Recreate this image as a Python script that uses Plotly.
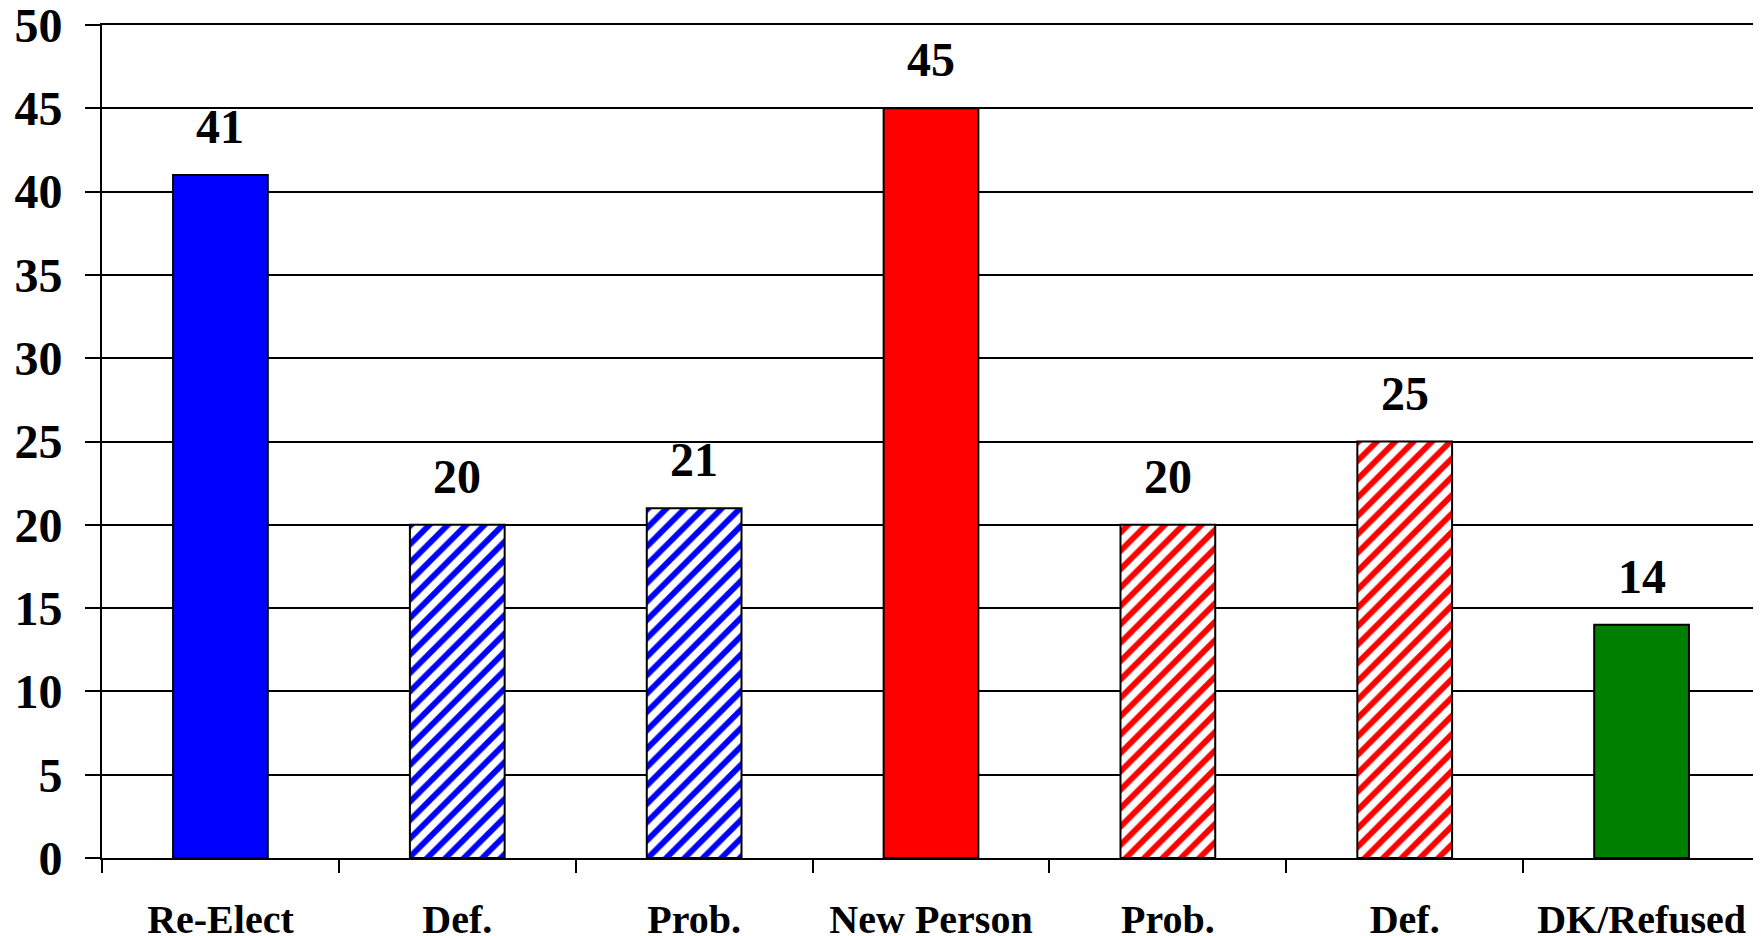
import plotly.graph_objects as go

categories = ["Re-Elect", "Def.", "Prob.", "New Person", "Prob.", "Def.", "DK/Refused"]
values = [41, 20, 21, 45, 20, 25, 14]
colors = ["#0000FF", "#0000FF", "#0000FF", "#FF0000", "#FF0000", "#FF0000", "#008000"]
hatched = [False, True, True, False, True, True, False]
y_ticks = [0, 5, 10, 15, 20, 25, 30, 35, 40, 45, 50]

# unique category keys so duplicate labels stay separate
x_keys = [f"c{i}" for i in range(len(categories))]

FONT = "Liberation Serif, Times New Roman, serif"

fig = go.Figure()
for xk, v, c, h in zip(x_keys, values, colors, hatched):
    if h:
        marker = dict(
            color=c,
            line=dict(color="#000000", width=2),
            pattern=dict(shape="/", fgcolor=c, bgcolor="#FFFFFF",
                         fgopacity=1, size=13, solidity=0.45, fillmode="replace"),
        )
    else:
        marker = dict(color=c, line=dict(color="#000000", width=2))
    fig.add_trace(go.Bar(
        x=[xk], y=[v], width=0.4, marker=marker,
        showlegend=False, hoverinfo="skip",
    ))

for xk, v in zip(x_keys, values):
    fig.add_annotation(
        x=xk, y=v, text=f"<b>{v}</b>", showarrow=False,
        yanchor="bottom", yshift=20,
        font=dict(family=FONT, size=48, color="#000000"),
    )

fig.update_layout(
    width=1753, height=928,
    margin=dict(l=94, r=1, t=17, b=78),
    paper_bgcolor="#FFFFFF",
    plot_bgcolor="#FFFFFF",
    barmode="overlay",
    font=dict(family=FONT, color="#000000"),
    xaxis=dict(
        type="category",
        categoryorder="array",
        categoryarray=x_keys,
        tickmode="array",
        tickvals=x_keys,
        ticktext=[f"<b>{c}</b>" for c in categories],
        tickson="boundaries",
        ticks="outside",
        ticklen=13,
        tickwidth=2,
        tickcolor="#000000",
        tickfont=dict(family=FONT, size=40, color="#000000"),
        ticklabelstandoff=25,
        ticklabeloverflow="allow",
        showline=True,
        mirror=True,
        linecolor="#000000",
        linewidth=2,
        showgrid=False,
        range=[-0.5, 6.5],
        zeroline=False,
        automargin=False,
    ),
    yaxis=dict(
        range=[0, 50],
        tickmode="array",
        tickvals=y_ticks,
        ticktext=[f"<b>{t}</b>" for t in y_ticks],
        ticks="outside",
        ticklen=15,
        tickwidth=2,
        tickcolor="#000000",
        tickfont=dict(family=FONT, size=48, color="#000000"),
        ticklabelstandoff=13,
        ticklabeloverflow="allow",
        showline=True,
        mirror=True,
        linecolor="#000000",
        linewidth=2,
        showgrid=True,
        gridcolor="#000000",
        gridwidth=2,
        zeroline=False,
        automargin=False,
    ),
)

fig.write_html("out.html")
